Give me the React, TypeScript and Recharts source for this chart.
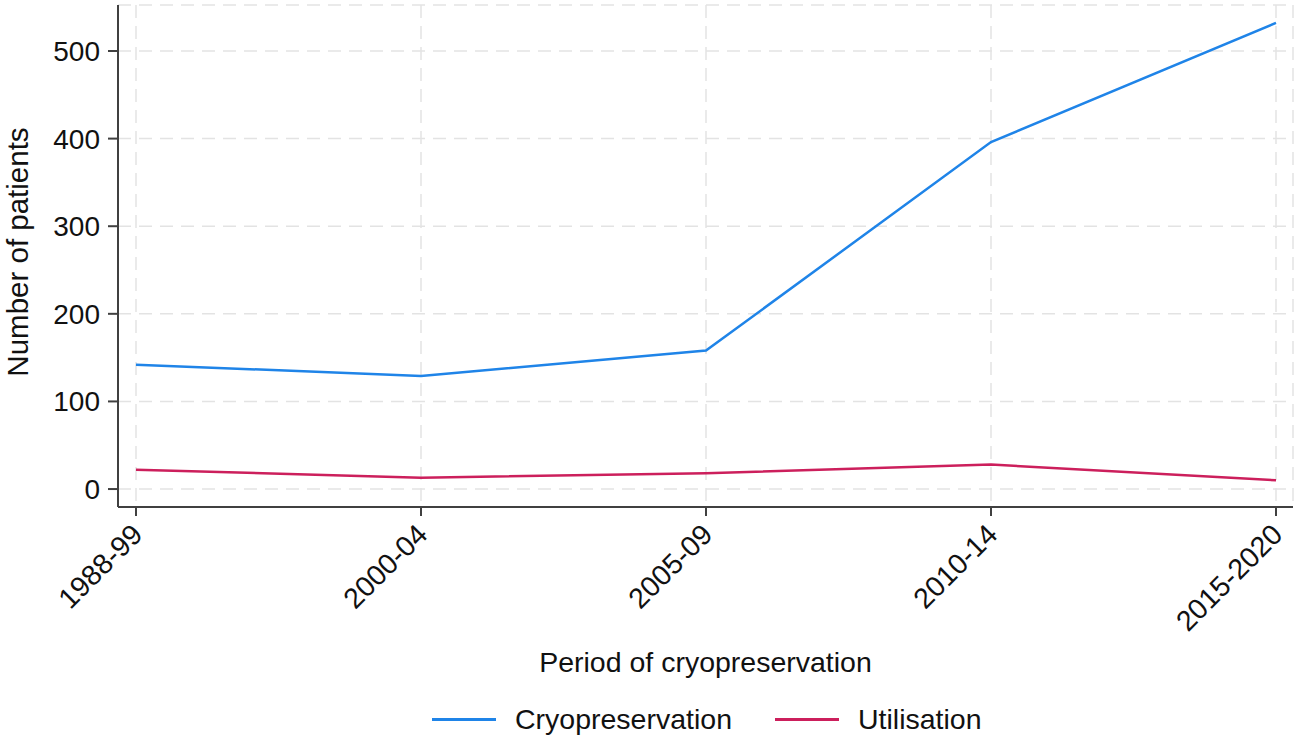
import React from 'react';
import { LineChart, Line, XAxis, YAxis, CartesianGrid, Legend, Label } from 'recharts';

const periods = ['1988-99', '2000-04', '2005-09', '2010-14', '2015-2020'];
const cryopreservation = [142, 129, 158, 396, 532];
const utilisation = [22, 13, 18, 28, 10];
const yTicks = [0, 100, 200, 300, 400, 500];

const seriesNames = ['Cryopreservation', 'Utilisation'];
const seriesColors = ['#1f84e8', '#cc1f5c'];

const data = periods.map((p, i) => ({
  period: p,
  cryo: cryopreservation[i],
  util: utilisation[i],
}));

const FONT = '"Liberation Sans", Arial, Helvetica, sans-serif';
const AXIS = '#404040';

const XTick = (props: any) => {
  const { x, y, payload } = props;
  return (
    <g transform={`translate(${x + 1},${y + 11})`}>
      <text
        x={0}
        y={0}
        dy="0.36em"
        textAnchor="end"
        transform="rotate(-45)"
        fontSize={28.5}
        fontFamily={FONT}
        fill="#111"
      >
        {payload.value}
      </text>
    </g>
  );
};

const renderLegend = () => (
  <div
    style={{
      height: 40,
      display: 'flex',
      alignItems: 'center',
      paddingLeft: 432,
      fontFamily: FONT,
      fontSize: 28.5,
      color: '#111',
      boxSizing: 'border-box',
      whiteSpace: 'nowrap',
    }}
  >
    {seriesNames.map((n, i) => (
      <div key={n} style={{ display: 'flex', alignItems: 'center', marginRight: 43 }}>
        <div style={{ width: 64, height: 3, background: seriesColors[i], marginRight: 19 }} />
        <span>{n}</span>
      </div>
    ))}
  </div>
);

export default function App() {
  return (
    <div style={{ position: 'absolute', left: 0, top: 0, background: '#fff' }}>
      <LineChart
        width={1299}
        height={741}
        data={data}
        margin={{ top: 5, right: 6, bottom: 2, left: 0 }}
      >
        <CartesianGrid stroke="#e3e3e3" strokeWidth={1.5} strokeDasharray="13 8" />
        <XAxis
          dataKey="period"
          interval={0}
          padding={{ left: 18, right: 17 }}
          height={192}
          tickSize={9}
          tickMargin={2}
          tick={<XTick />}
          tickLine={{ stroke: AXIS, strokeWidth: 2 }}
          axisLine={{ stroke: AXIS, strokeWidth: 2 }}
        >
          <Label
            content={(props: any) => {
              const vb = props.viewBox || { x: 118, width: 1175 };
              return (
                <text
                  x={vb.x + vb.width / 2}
                  y={662}
                  dy="0.358em"
                  textAnchor="middle"
                  fontSize={28.5}
                  fontFamily={FONT}
                  fill="#111"
                >
                  Period of cryopreservation
                </text>
              );
            }}
          />
        </XAxis>
        <YAxis
          width={118}
          domain={[-20.5, 552.5]}
          ticks={yTicks}
          allowDataOverflow
          tickSize={10}
          tickMargin={8}
          tick={{ fontSize: 28, fontFamily: FONT, fill: '#111' }}
          tickLine={{ stroke: AXIS, strokeWidth: 2 }}
          axisLine={{ stroke: AXIS, strokeWidth: 2 }}
        >
          <Label
            content={() => (
              <text
                x={28}
                y={252}
                textAnchor="middle"
                transform="rotate(-90, 28, 252)"
                fontSize={29.5}
                fontFamily={FONT}
                fill="#111"
              >
                Number of patients
              </text>
            )}
          />
        </YAxis>
        <Legend verticalAlign="bottom" content={renderLegend} />
        <Line
          type="linear"
          dataKey="cryo"
          name={seriesNames[0]}
          stroke={seriesColors[0]}
          strokeWidth={2.5}
          dot={false}
          activeDot={false}
          isAnimationActive={false}
        />
        <Line
          type="linear"
          dataKey="util"
          name={seriesNames[1]}
          stroke={seriesColors[1]}
          strokeWidth={2.5}
          dot={false}
          activeDot={false}
          isAnimationActive={false}
        />
      </LineChart>
    </div>
  );
}
